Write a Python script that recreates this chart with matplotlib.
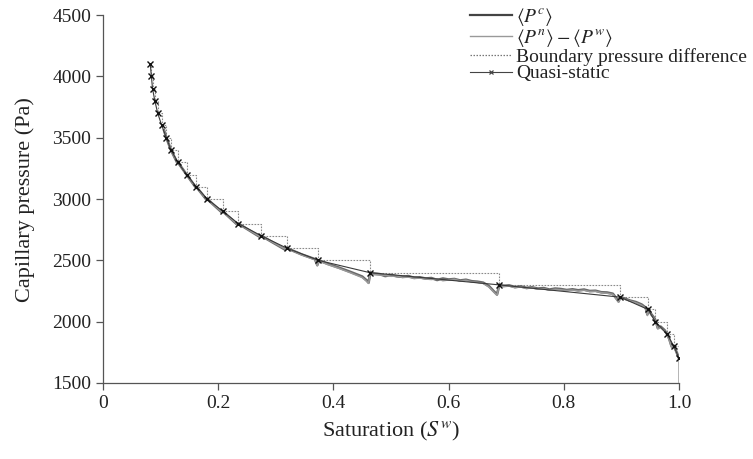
import matplotlib
matplotlib.use("Agg")
import matplotlib.pyplot as plt
from matplotlib.lines import Line2D

plt.rcParams['font.family'] = ['Liberation Serif', 'DejaVu Serif']
plt.rcParams['mathtext.fontset'] = 'stix'

# Quasi-static points (saturation, capillary pressure)
qs_s = [0.082, 0.084, 0.086, 0.090, 0.095, 0.102, 0.110, 0.118, 0.130, 0.145,
        0.162, 0.181, 0.208, 0.235, 0.275, 0.319, 0.374, 0.463, 0.688, 0.898,
        0.946, 0.959, 0.979, 0.991, 1.000]
qs_p = [4100, 4000, 3900, 3800, 3700, 3600, 3500, 3400, 3300, 3200,
        3100, 3000, 2900, 2800, 2700, 2600, 2500, 2400, 2300, 2200,
        2100, 2000, 1900, 1800, 1700]

# <P^c> dynamic curve
pc_s = [0.106, 0.110, 0.118, 0.129, 0.130, 0.145, 0.161, 0.162, 0.180, 0.181,
        0.206, 0.208, 0.233, 0.235, 0.272, 0.275, 0.316, 0.319, 0.345, 0.368,
        0.372, 0.375, 0.390, 0.410, 0.430, 0.450, 0.458, 0.461, 0.464, 0.470,
        0.480, 0.490, 0.500, 0.510, 0.520, 0.530, 0.540, 0.550, 0.560, 0.570,
        0.580, 0.590, 0.600, 0.610, 0.620, 0.630, 0.640, 0.650, 0.660, 0.670,
        0.678, 0.684, 0.688, 0.695, 0.705, 0.715, 0.725, 0.735, 0.745, 0.755,
        0.765, 0.775, 0.785, 0.795, 0.805, 0.815, 0.825, 0.835, 0.845, 0.855,
        0.865, 0.875, 0.885, 0.892, 0.895, 0.898, 0.905, 0.915, 0.925, 0.935,
        0.942, 0.945, 0.947, 0.952, 0.957, 0.960, 0.963, 0.968, 0.975, 0.979,
        0.983, 0.987, 0.991, 0.995, 1.000]
pc_p = [3560, 3500, 3400, 3295, 3300, 3200, 3095, 3100, 2993, 3000,
        2893, 2900, 2792, 2800, 2692, 2700, 2588, 2600, 2548, 2510,
        2462, 2500, 2472, 2440, 2405, 2368, 2335, 2318, 2400, 2392,
        2388, 2372, 2382, 2370, 2366, 2372, 2358, 2362, 2352, 2356,
        2340, 2352, 2344, 2348, 2336, 2342, 2330, 2326, 2318, 2290,
        2250, 2222, 2300, 2292, 2296, 2282, 2288, 2276, 2280, 2270,
        2274, 2262, 2270, 2266, 2258, 2264, 2256, 2262, 2250, 2252,
        2240, 2238, 2228, 2185, 2165, 2200, 2190, 2172, 2160, 2140,
        2115, 2060, 2100, 2060, 2030, 2000, 1950, 1960, 1930, 1900,
        1860, 1800, 1800, 1760, 1700]

# <P^n> - <P^w> dynamic curve
pnw_s = pc_s + [1.000]
pnw_p = [3560, 3500, 3400, 3298, 3300, 3200, 3098, 3100, 2996, 3000,
         2896, 2900, 2795, 2800, 2695, 2700, 2592, 2600, 2545, 2505,
         2455, 2495, 2466, 2434, 2398, 2360, 2328, 2312, 2396, 2384,
         2380, 2378, 2370, 2374, 2360, 2364, 2352, 2356, 2348, 2344,
         2350, 2334, 2340, 2346, 2332, 2338, 2324, 2320, 2312, 2282,
         2244, 2215, 2296, 2286, 2290, 2278, 2284, 2270, 2276, 2266,
         2268, 2258, 2264, 2260, 2254, 2258, 2250, 2256, 2246, 2248,
         2236, 2232, 2222, 2178, 2160, 2196, 2184, 2168, 2154, 2134,
         2108, 2050, 2096, 2052, 2022, 1995, 1940, 1952, 1922, 1895,
         1852, 1790, 1795, 1752, 1700, 1500]

x_ticks = [0, 0.2, 0.4, 0.6, 0.8, 1.0]
x_tick_labels = ['0', '0.2', '0.4', '0.6', '0.8', '1.0']
y_ticks = [1500, 2000, 2500, 3000, 3500, 4000, 4500]

fig = plt.figure(figsize=(7.53, 4.59), dpi=100)
ax = fig.add_axes([0.1368, 0.1656, 0.765, 0.8014])

ax.step(qs_s, qs_p, where='post', color='#8a8a8a', lw=0.8,
        linestyle=(0, (1.5, 1.2)), zorder=1)
ax.plot(pc_s, pc_p, color='#6a6a6a', lw=1.9, zorder=2)
ax.plot(pnw_s, pnw_p, color='#999999', lw=1.1, zorder=3)
ax.plot(qs_s, qs_p, color='#3a3a3a', lw=0.8, marker='x', markersize=4.5,
        markeredgewidth=1.0, markeredgecolor='#111111', zorder=4)

ax.set_xlim(0, 1.0)
ax.set_ylim(1500, 4500)
ax.set_xticks(x_ticks)
ax.set_xticklabels(x_tick_labels)
ax.set_yticks(y_ticks)
for sp in ['top', 'right']:
    ax.spines[sp].set_visible(False)
for sp in ['left', 'bottom']:
    ax.spines[sp].set_color('#555555')
    ax.spines[sp].set_linewidth(0.9)
ax.tick_params(direction='out', length=5, width=0.9, color='#555555',
               labelsize=14, labelcolor='#222222')
ax.set_xlabel(r'Saturation ($S^w$)', fontsize=16, color='#222222', labelpad=6)
ax.set_ylabel('Capillary pressure (Pa)', fontsize=16, color='#222222', labelpad=12)

handles = [
    Line2D([], [], color='#444444', lw=1.6),
    Line2D([], [], color='#999999', lw=1.0),
    Line2D([], [], color='#777777', lw=0.9, linestyle=(0, (1.2, 1.2))),
    Line2D([], [], color='#444444', lw=0.8, marker='x', markersize=3.5,
           markeredgewidth=0.9),
]
labels = [r'$\langle P^c\rangle$', r'$\langle P^n\rangle - \langle P^w\rangle$',
          'Boundary pressure difference', 'Quasi-static']
leg = fig.legend(handles, labels, loc='upper right', bbox_to_anchor=(1.0, 1.0),
                 frameon=False, fontsize=14, handlelength=2.2, handletextpad=0.2,
                 labelspacing=-0.05, borderaxespad=0.2, borderpad=0.1)
for t in leg.get_texts():
    t.set_color('#222222')

fig.savefig('out.png', dpi=100)
